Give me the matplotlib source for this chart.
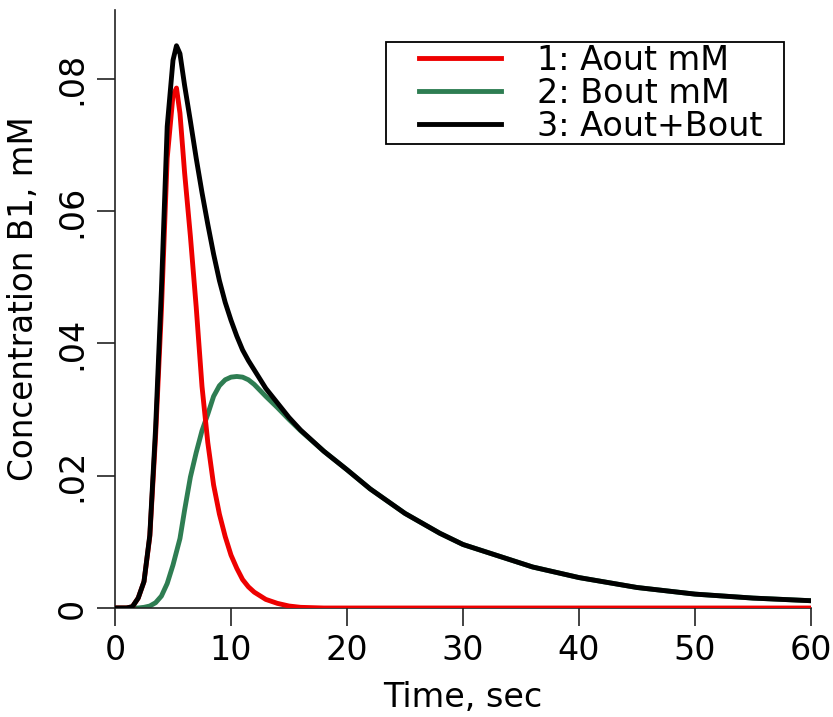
"""
Aout / Bout concentration curves in B1, read back off the old figure.
"""

import matplotlib
matplotlib.use("Agg")
import matplotlib.pyplot as plt
from matplotlib.legend_handler import HandlerLine2D
from matplotlib.path import Path

# time axis, sec
t = [0, 1, 1.5, 2, 2.5, 3, 3.5, 4, 4.5, 5, 5.3, 5.6, 6, 6.5, 7, 7.5, 8, 8.5,
     9, 9.5, 10, 10.5, 11, 11.5, 12, 13, 14, 15, 16, 18, 20, 22, 25, 28, 30,
     33, 36, 40, 45, 50, 55, 60]

# 1: Aout mM
aout = [0, 0, 0.0002, 0.0015, 0.004, 0.0108, 0.026, 0.045, 0.068, 0.0775,
        0.0786, 0.0748, 0.0658, 0.0562, 0.0455, 0.0335, 0.0250, 0.0186,
        0.0142, 0.0108, 0.0080, 0.0060, 0.0043, 0.0032, 0.0024, 0.0013,
        0.0007, 0.0003, 0.0001, 0, 0, 0, 0, 0, 0,
        0, 0, 0, 0, 0, 0, 0]

# 2: Bout mM
bout = [0, 0, 0, 0, 0.0001, 0.0003, 0.0008, 0.0018, 0.0037, 0.0065,
        0.0085, 0.0105, 0.0148, 0.0198, 0.0235, 0.0268, 0.0293, 0.0320,
        0.0336, 0.0345, 0.0349, 0.0350, 0.0349, 0.0345, 0.0338, 0.0320,
        0.0303, 0.0285, 0.0268, 0.0237, 0.0209, 0.0180, 0.0143, 0.0113, 0.0096,
        0.0079, 0.0062, 0.0046, 0.0031, 0.0021, 0.0015, 0.0011]

# 3: Aout+Bout
total = [0, 0, 0.0002, 0.0015, 0.004, 0.011, 0.0272, 0.048, 0.0728, 0.0828,
         0.0850, 0.0838, 0.0790, 0.0736, 0.0680, 0.0628, 0.0580, 0.0535,
         0.0495, 0.0462, 0.0435, 0.0411, 0.0390, 0.0374, 0.0360, 0.0332,
         0.0310, 0.0288, 0.0269, 0.0237, 0.0209, 0.0180, 0.0143, 0.0113, 0.0096,
         0.0079, 0.0062, 0.0046, 0.0031, 0.0021, 0.0015, 0.0011]

xticks = [0, 10, 20, 30, 40, 50, 60]
yticks = [0, 0.02, 0.04, 0.06, 0.08]
ylabels = ["0", ".02", ".04", ".06", ".08"]

plt.rcParams["font.family"] = "DejaVu Sans"

fig = plt.figure(figsize=(8.33, 7.17), dpi=100)
ax = fig.add_axes([115 / 833, 1 - 608 / 717, 696 / 833, 598 / 717])

# green under red under black, like the original
ax.plot(t, bout, color="#2e7d52", lw=3.5, zorder=2, label="2: Bout mM")
ax.plot(t, aout, color="#ee0000", lw=3.5, zorder=3, label="1: Aout mM")
ax.plot(t, total, color="black", lw=3.5, zorder=4, label="3: Aout+Bout")

ax.set_xlim(0, 60)
ax.set_ylim(0, 0.0904)
ax.set_xticks(xticks)
ax.set_yticks(yticks)
ax.set_yticklabels(ylabels, rotation=90, va="center")

for s in ("top", "right"):
    ax.spines[s].set_visible(False)
for s in ("left", "bottom"):
    ax.spines[s].set_linewidth(1.2)
    ax.spines[s].set_color("#222222")
ax.tick_params(direction="out", length=13, width=1.2, color="#222222",
               labelsize=24, pad=6)

ax.set_xlabel("Time, sec", fontsize=24, labelpad=10)
ax.set_ylabel("Concentration B1, mM", fontsize=23.5, labelpad=11)
ax.yaxis.label.set_y(0.518)


def wide_box(x0, y0, width, height, mutation_size):
    # legend frame with some extra room on the right side only
    r = 0.6 * mutation_size
    return Path([(x0, y0), (x0 + width + r, y0), (x0 + width + r, y0 + height),
                 (x0, y0 + height), (x0, y0)], closed=True)


# legend: short line pushed right inside its slot, rows packed tight
h, l = ax.get_legend_handles_labels()
order = [1, 0, 2]
leg = ax.legend([h[i] for i in order], [l[i] for i in order],
                loc="upper right", bbox_to_anchor=(0.9325, 0.9465),
                borderaxespad=0, fontsize=24, frameon=True, fancybox=False,
                edgecolor="black", framealpha=1, labelspacing=0.0,
                handlelength=3.4, handletextpad=1.08, borderpad=0.05,
                handler_map={type(h[0]): HandlerLine2D(xpad=0.95)})
leg.get_frame().set_boxstyle(wide_box)
leg.get_frame().set_linewidth(1.3)

fig.savefig("out.png", dpi=100)
